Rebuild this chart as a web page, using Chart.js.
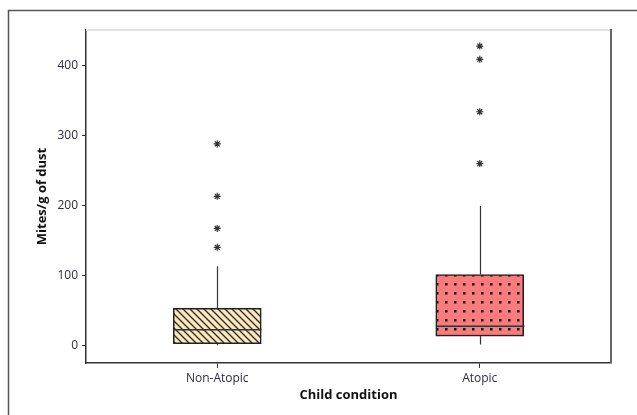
<!DOCTYPE html>
<html>
<head>
<meta charset="utf-8">
<script src="https://cdn.jsdelivr.net/npm/chart.js@4"></script>
<style>
  html, body { margin: 0; padding: 0; background: #fff; }
  #wrap { width: 637px; height: 415px; position: relative; }
</style>
</head>
<body>
<div id="wrap"><canvas id="js--chart"></canvas></div>
<script>
const categories = ["Non-Atopic", "Atopic"];
const mins = [0, 1];
const q1s = [2, 13];
const medians = [22, 27];
const q3s = [53, 101];
const maxs = [113, 199];
const outliersNonAtopic = [140, 167, 213, 288];
const outliersAtopic = [260, 334, 409, 428];
const yTicks = [0, 100, 200, 300, 400];

// fill patterns for the two boxes
function hatchPattern() {
  const c = document.createElement("canvas");
  c.width = 7; c.height = 7;
  const g = c.getContext("2d");
  g.fillStyle = "#fce7bd";
  g.fillRect(0, 0, 7, 7);
  g.strokeStyle = "#2a2a2a";
  g.lineWidth = 1.3;
  g.beginPath();
  g.moveTo(0, 0); g.lineTo(7, 7);
  g.moveTo(-1, 6); g.lineTo(1, 8);
  g.moveTo(6, -1); g.lineTo(8, 1);
  g.stroke();
  return g.createPattern(c, "repeat");
}

function dotPattern() {
  const c = document.createElement("canvas");
  c.width = 9; c.height = 9;
  const g = c.getContext("2d");
  g.fillStyle = "#fa7b7b";
  g.fillRect(0, 0, 9, 9);
  g.fillStyle = "#111";
  g.fillRect(4, 4, 2.5, 2.5);
  return g.createPattern(c, "repeat");
}

const outlierPoints = outliersNonAtopic.map(v => ({x: categories[0], y: v}))
  .concat(outliersAtopic.map(v => ({x: categories[1], y: v})));

// whiskers, medians and frames
const boxPlugin = {
  id: "boxExtras",
  beforeDraw(chart) {
    const ctx = chart.ctx;
    ctx.save();
    ctx.strokeStyle = "#555";
    ctx.lineWidth = 1.5;
    ctx.beginPath();
    ctx.moveTo(8.5, 415);
    ctx.lineTo(8.5, 10.5);
    ctx.lineTo(637, 10.5);
    ctx.stroke();
    ctx.restore();
  },
  afterDatasetsDraw(chart) {
    const ctx = chart.ctx;
    const x = chart.scales.x;
    const y = chart.scales.y;
    const area = chart.chartArea;
    ctx.save();
    ctx.strokeStyle = "#333";
    categories.forEach(function(cat, i) {
      const cx = Math.round(x.getPixelForValue(i)) + 0.5;
      ctx.lineWidth = 1.2;
      ctx.beginPath();
      ctx.moveTo(cx, y.getPixelForValue(q3s[i]));
      ctx.lineTo(cx, y.getPixelForValue(maxs[i]));
      ctx.moveTo(cx, y.getPixelForValue(q1s[i]));
      ctx.lineTo(cx, y.getPixelForValue(mins[i]));
      ctx.stroke();
      ctx.lineWidth = 1.6;
      ctx.beginPath();
      ctx.moveTo(cx - 44, y.getPixelForValue(medians[i]));
      ctx.lineTo(cx + 44, y.getPixelForValue(medians[i]));
      ctx.stroke();
    });
    ctx.lineWidth = 2;
    ctx.strokeStyle = "#e2e2e2";
    ctx.beginPath();
    ctx.moveTo(area.left, area.top);
    ctx.lineTo(area.right, area.top);
    ctx.stroke();
    ctx.strokeStyle = "#666";
    ctx.beginPath();
    ctx.moveTo(area.right, area.top - 1);
    ctx.lineTo(area.right, area.bottom);
    ctx.stroke();
    ctx.restore();
  }
};

const tickFont = {family: "Open Sans", size: 12};
const titleFont = {family: "Open Sans", size: 13, weight: "bold"};

new Chart(document.getElementById("js--chart"), {
  type: "bar",
  data: {
    labels: categories,
    datasets: [
      {
        label: "Box",
        data: q1s.map((v, i) => [v, q3s[i]]),
        backgroundColor: [hatchPattern(), dotPattern()],
        borderColor: "#222",
        borderWidth: 1.6,
        borderSkipped: false,
        barThickness: 88,
        order: 2
      },
      {
        label: "Outliers",
        type: "line",
        data: outlierPoints,
        showLine: false,
        pointStyle: "star",
        pointRadius: 3.5,
        borderColor: "#333",
        borderWidth: 1.2,
        backgroundColor: "#333",
        order: 1
      }
    ]
  },
  options: {
    responsive: true,
    maintainAspectRatio: false,
    animation: false,
    layout: {padding: {left: 30, top: 30, right: 26, bottom: 8}},
    plugins: {legend: {display: false}, tooltip: {enabled: false}},
    scales: {
      x: {
        offset: true,
        afterFit(axis) { axis.height = 44; },
        grid: {offset: false, drawOnChartArea: false, drawTicks: true, tickLength: 5, color: "#333"},
        border: {color: "#333", width: 1.5},
        ticks: {color: "#2c2c40", font: tickFont, padding: 3},
        title: {display: true, text: "Child condition", color: "#111", font: titleFont, padding: {top: 4, bottom: 4}}
      },
      y: {
        min: -25.5,
        max: 451,
        afterFit(axis) { axis.width = 56; },
        afterBuildTicks(axis) { axis.ticks = yTicks.map(v => ({value: v})); },
        grid: {drawOnChartArea: false, drawTicks: true, tickLength: 4, color: "#333"},
        border: {color: "#333", width: 1.5},
        ticks: {color: "#2c2c40", font: tickFont, padding: 4},
        title: {display: true, text: "Mites/g of dust", color: "#111", font: titleFont, padding: {top: 4, bottom: 4}}
      }
    }
  },
  plugins: [boxPlugin]
});
</script>
</body>
</html>
